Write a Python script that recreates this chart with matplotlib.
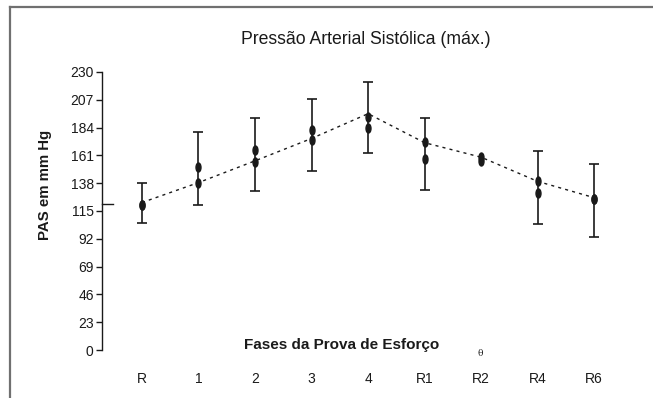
import numpy as np
import matplotlib
matplotlib.use("Agg")
import matplotlib.pyplot as plt
from matplotlib.path import Path
from matplotlib.transforms import Affine2D
from matplotlib.lines import Line2D

plt.rcParams['font.family'] = ['Liberation Sans', 'DejaVu Sans']

# ---- data ----
phases = ["R", "1", "2", "3", "4", "R1", "R2", "R4", "R6"]
trend = [122, 138.5, 156.5, 175, 195.5, 171.5, 159.5, 139.5, 126]
group_a = [120, 151.7, 165.5, 182, 193, 172.4, 160, 140, 124.7]
group_b = [120, 138.4, 155.8, 173.7, 183.4, 157.8, 156.5, 130, 124.7]
err_top = [138, 180.6, 191.7, 207.7, 222, 191.7, np.nan, 165, 153.6]
err_bottom = [104.8, 120, 131.5, 148.4, 162.7, 132.4, np.nan, 104.2, 93.2]
yticks = [0, 23, 46, 69, 92, 115, 138, 161, 184, 207, 230]
ref_level = 121

ink = "#1a1a1a"

fig = plt.figure(figsize=(6.53, 3.98), dpi=100)
ax = fig.add_axes([0.1562, 0.1206, 0.8239, 0.6985])

x = np.arange(len(phases))
top = np.array(err_top, dtype=float)
bot = np.array(err_bottom, dtype=float)
valid = ~np.isnan(top)
mid = (top + bot) / 2
ax.errorbar(x[valid], mid[valid], yerr=(top - bot)[valid] / 2, fmt='none',
            ecolor=ink, elinewidth=1.2, capsize=3.8, capthick=1.2, zorder=2)

ax.plot(x, trend, color=ink, lw=1.0, linestyle=(0, (2.2, 3.0)), zorder=3)

ell = Path.unit_circle().transformed(Affine2D().scale(0.55, 1.0))
ax.plot(x, group_a, linestyle='none', marker=ell, markersize=6.5,
        color=ink, zorder=4)
ax.plot(x, group_b, linestyle='none', marker=ell, markersize=6.5,
        color=ink, zorder=4)

# short reference mark near the axis
ax.plot([0, 0.02], [ref_level, ref_level], transform=ax.get_yaxis_transform(),
        color=ink, lw=1.0, clip_on=False)

ax.set_xlim(-0.707, 8.81)
ax.set_ylim(0, 230)
ax.set_yticks(yticks)
ax.set_xticks(x)
ax.set_xticklabels(phases)

for s in ["top", "right", "bottom"]:
    ax.spines[s].set_visible(False)
ax.spines["left"].set_color(ink)
ax.spines["left"].set_linewidth(1.0)
ax.tick_params(axis='y', direction='out', length=4, width=1.0, colors=ink,
               labelsize=10, pad=2)
ax.tick_params(axis='x', length=0, labelsize=10, pad=16, colors=ink)

ax.set_ylabel("PAS em mm Hg", fontsize=10.8, fontweight='bold', color=ink)
ax.yaxis.set_label_coords(-0.093, 0.594)

ax.text(0.446, 0.018, "Fases da Prova de Esforço", transform=ax.transAxes,
        ha='center', va='center', fontsize=11, fontweight='bold', color=ink)
ax.text(0.703, -0.011, "θ", transform=ax.transAxes, ha='center', va='center',
        fontsize=6.5, color=ink, family=['DejaVu Serif', 'DejaVu Sans'])

fig.text(366 / 653, 1 - 40 / 398, "Pressão Arterial Sistólica (máx.)",
         ha='center', va='center', fontsize=12.7, color=ink)

# outer frame (cropped on right and bottom)
fx = 10 / 653
fy = 1 - 6.5 / 398
fig.add_artist(Line2D([fx, fx], [0, fy], transform=fig.transFigure,
                      color="#707070", lw=1.6))
fig.add_artist(Line2D([fx, 652 / 653], [fy, fy], transform=fig.transFigure,
                      color="#707070", lw=1.6))

fig.savefig("out.png", dpi=100)
